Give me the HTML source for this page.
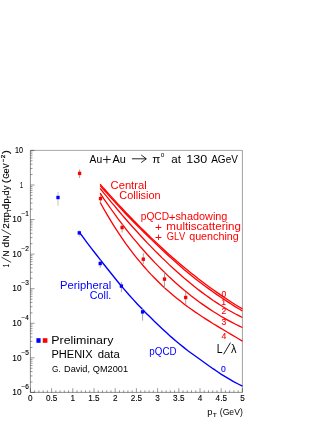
<!DOCTYPE html>
<html><head><meta charset="utf-8"><title>chart</title>
<style>html,body{margin:0;padding:0;background:#fff}svg{display:block;will-change:transform}text{font-family:"Liberation Sans",sans-serif;font-kerning:none}</style>
</head><body>
<svg width="327" height="423" viewBox="0 0 327 423">
<rect width="327" height="423" fill="#fff"/>
<path d="M30.4,150.4V392.4H242.4" fill="none" stroke="#000" stroke-width="0.44"/>
<path d="M242.4,392.4V150.4" fill="none" stroke="#000" stroke-width="0.38"/>
<path d="M242.4,150.4H30.4" fill="none" stroke="#000" stroke-width="0.35"/>
<path d="M30.40,392.4v-4.2M34.64,392.4v-2.1M38.88,392.4v-2.1M43.12,392.4v-2.1M47.36,392.4v-2.1M51.60,392.4v-4.2M55.84,392.4v-2.1M60.08,392.4v-2.1M64.32,392.4v-2.1M68.56,392.4v-2.1M72.80,392.4v-4.2M77.04,392.4v-2.1M81.28,392.4v-2.1M85.52,392.4v-2.1M89.76,392.4v-2.1M94.00,392.4v-4.2M98.24,392.4v-2.1M102.48,392.4v-2.1M106.72,392.4v-2.1M110.96,392.4v-2.1M115.20,392.4v-4.2M119.44,392.4v-2.1M123.68,392.4v-2.1M127.92,392.4v-2.1M132.16,392.4v-2.1M136.40,392.4v-4.2M140.64,392.4v-2.1M144.88,392.4v-2.1M149.12,392.4v-2.1M153.36,392.4v-2.1M157.60,392.4v-4.2M161.84,392.4v-2.1M166.08,392.4v-2.1M170.32,392.4v-2.1M174.56,392.4v-2.1M178.80,392.4v-4.2M183.04,392.4v-2.1M187.28,392.4v-2.1M191.52,392.4v-2.1M195.76,392.4v-2.1M200.00,392.4v-4.2M204.24,392.4v-2.1M208.48,392.4v-2.1M212.72,392.4v-2.1M216.96,392.4v-2.1M221.20,392.4v-4.2M225.44,392.4v-2.1M229.68,392.4v-2.1M233.92,392.4v-2.1M238.16,392.4v-2.1M242.40,392.4v-4.2M30.4,392.40h4.2M30.4,381.99h2.1M30.4,375.91h2.1M30.4,371.59h2.1M30.4,368.24h2.1M30.4,365.50h2.1M30.4,363.18h2.1M30.4,361.18h2.1M30.4,359.41h2.1M30.4,357.83h4.2M30.4,347.42h2.1M30.4,341.33h2.1M30.4,337.01h2.1M30.4,333.66h2.1M30.4,330.93h2.1M30.4,328.61h2.1M30.4,326.61h2.1M30.4,324.84h2.1M30.4,323.26h4.2M30.4,312.85h2.1M30.4,306.76h2.1M30.4,302.44h2.1M30.4,299.09h2.1M30.4,296.36h2.1M30.4,294.04h2.1M30.4,292.04h2.1M30.4,290.27h2.1M30.4,288.69h4.2M30.4,278.28h2.1M30.4,272.19h2.1M30.4,267.87h2.1M30.4,264.52h2.1M30.4,261.78h2.1M30.4,259.47h2.1M30.4,257.46h2.1M30.4,255.70h2.1M30.4,254.11h4.2M30.4,243.71h2.1M30.4,237.62h2.1M30.4,233.30h2.1M30.4,229.95h2.1M30.4,227.21h2.1M30.4,224.90h2.1M30.4,222.89h2.1M30.4,221.12h2.1M30.4,219.54h4.2M30.4,209.14h2.1M30.4,203.05h2.1M30.4,198.73h2.1M30.4,195.38h2.1M30.4,192.64h2.1M30.4,190.33h2.1M30.4,188.32h2.1M30.4,186.55h2.1M30.4,184.97h4.2M30.4,174.56h2.1M30.4,168.48h2.1M30.4,164.16h2.1M30.4,160.81h2.1M30.4,158.07h2.1M30.4,155.76h2.1M30.4,153.75h2.1M30.4,151.98h2.1M30.4,150.40h4.2" stroke="#000" stroke-width="0.4" fill="none"/>
<text x="28.12" y="400.70" font-size="8.2" fill="#000" stroke="#000" stroke-width="0.1">0</text>
<text x="45.91" y="400.70" font-size="8.2" fill="#000" stroke="#000" stroke-width="0.1">0.5</text>
<text x="70.41" y="400.70" font-size="8.2" fill="#000" stroke="#000" stroke-width="0.1">1</text>
<text x="88.16" y="400.70" font-size="8.2" fill="#000" stroke="#000" stroke-width="0.1">1.5</text>
<text x="112.92" y="400.70" font-size="8.2" fill="#000" stroke="#000" stroke-width="0.1">2</text>
<text x="130.67" y="400.70" font-size="8.2" fill="#000" stroke="#000" stroke-width="0.1">2.5</text>
<text x="155.34" y="400.70" font-size="8.2" fill="#000" stroke="#000" stroke-width="0.1">3</text>
<text x="173.12" y="400.70" font-size="8.2" fill="#000" stroke="#000" stroke-width="0.1">3.5</text>
<text x="197.75" y="400.70" font-size="8.2" fill="#000" stroke="#000" stroke-width="0.1">4</text>
<text x="215.58" y="400.70" font-size="8.2" fill="#000" stroke="#000" stroke-width="0.1">4.5</text>
<text x="240.13" y="400.70" font-size="8.2" fill="#000" stroke="#000" stroke-width="0.1">5</text>
<text transform="translate(15.05,153.20) scale(0.8806,1)" font-size="8.2" fill="#000" stroke="#000" stroke-width="0.1">10</text>
<text transform="translate(20.09,187.77) scale(0.6506,1)" font-size="8.2" fill="#000" stroke="#000" stroke-width="0.1">1</text>
<text transform="translate(12.37,222.34) scale(1.0152,1)" font-size="8.2" fill="#000" stroke="#000" stroke-width="0.1">10</text>
<text transform="translate(21.48,216.24) scale(0.9597,1)" font-size="6.8" fill="#000" stroke="#000" stroke-width="0.15">−1</text>
<text transform="translate(12.37,256.91) scale(1.0152,1)" font-size="8.2" fill="#000" stroke="#000" stroke-width="0.1">10</text>
<text transform="translate(21.48,250.81) scale(0.9611,1)" font-size="6.8" fill="#000" stroke="#000" stroke-width="0.15">−2</text>
<text transform="translate(12.37,291.49) scale(1.0152,1)" font-size="8.2" fill="#000" stroke="#000" stroke-width="0.1">10</text>
<text transform="translate(21.48,285.39) scale(0.9552,1)" font-size="6.8" fill="#000" stroke="#000" stroke-width="0.15">−3</text>
<text transform="translate(12.37,326.06) scale(1.0152,1)" font-size="8.2" fill="#000" stroke="#000" stroke-width="0.1">10</text>
<text transform="translate(21.48,319.96) scale(0.9420,1)" font-size="6.8" fill="#000" stroke="#000" stroke-width="0.15">−4</text>
<text transform="translate(12.37,360.63) scale(1.0152,1)" font-size="8.2" fill="#000" stroke="#000" stroke-width="0.1">10</text>
<text transform="translate(21.48,354.53) scale(0.9534,1)" font-size="6.8" fill="#000" stroke="#000" stroke-width="0.15">−5</text>
<text transform="translate(12.37,395.20) scale(1.0152,1)" font-size="8.2" fill="#000" stroke="#000" stroke-width="0.1">10</text>
<text transform="translate(21.48,389.10) scale(0.9552,1)" font-size="6.8" fill="#000" stroke="#000" stroke-width="0.15">−6</text>
<g transform="translate(9.2,267) rotate(-90)">
<text transform="translate(-0.07,0.00) scale(0.5412,1)" font-size="9.0" fill="#000" stroke="#000" stroke-width="0.13">1</text>
<path d="M4.6,1.9L9.8,-7.7M32.2,1.9L37.5,-7.7" stroke="#000" stroke-width="0.75" fill="none"/>
<text transform="translate(10.62,0.00) scale(0.9150,1)" font-size="9.0" fill="#000" stroke="#000" stroke-width="0.13">N</text>
<text transform="translate(19.57,0.00) scale(1.1365,1)" font-size="9.0" fill="#000" stroke="#000" stroke-width="0.13">d</text>
<text transform="translate(25.42,0.00) scale(0.9150,1)" font-size="9.0" fill="#000" stroke="#000" stroke-width="0.13">N</text>
<text transform="translate(38.19,0.00) scale(1.1219,1)" font-size="9.0" fill="#000" stroke="#000" stroke-width="0.13">2</text>
<text transform="translate(44.31,0.00) scale(0.8414,1)" font-size="9.0" fill="#000" stroke="#000" stroke-width="0.13">π</text>
<text transform="translate(49.83,0.00) scale(0.9883,1)" font-size="9.0" fill="#000" stroke="#000" stroke-width="0.13">p</text>
<text transform="translate(54.90,1.80) scale(0.8503,1)" font-size="5.2" fill="#000" stroke="#000" stroke-width="0.22">T</text>
<text transform="translate(57.70,0.00) scale(1.0624,1)" font-size="9.0" fill="#000" stroke="#000" stroke-width="0.13">d</text>
<text transform="translate(63.61,0.00) scale(1.0130,1)" font-size="9.0" fill="#000" stroke="#000" stroke-width="0.13">p</text>
<text transform="translate(68.80,1.80) scale(0.8163,1)" font-size="5.2" fill="#000" stroke="#000" stroke-width="0.22">T</text>
<text transform="translate(71.61,0.00) scale(1.0377,1)" font-size="9.0" fill="#000" stroke="#000" stroke-width="0.13">d</text>
<text transform="translate(76.88,0.00) scale(0.9640,1)" font-size="9.0" fill="#000" stroke="#000" stroke-width="0.13">y</text>
<text transform="translate(83.77,0.00) scale(1.2991,1)" font-size="9.0" fill="#000" stroke="#000" stroke-width="0.13">(</text>
<text transform="translate(88.45,0.00) scale(0.7659,1)" font-size="9.0" fill="#000" stroke="#000" stroke-width="0.13">G</text>
<text transform="translate(93.74,0.00) scale(0.9472,1)" font-size="9.0" fill="#000" stroke="#000" stroke-width="0.13">e</text>
<text transform="translate(98.87,0.00) scale(0.8103,1)" font-size="9.0" fill="#000" stroke="#000" stroke-width="0.13">V</text>
<text transform="translate(105.02,-4.50) scale(0.9605,1)" font-size="6.0" fill="#000" stroke="#000" stroke-width="0.22">−</text>
<text transform="translate(108.69,-4.30) scale(1.0244,1)" font-size="6.0" fill="#000" stroke="#000" stroke-width="0.22">2</text>
<text transform="translate(112.93,0.00) scale(1.3410,1)" font-size="9.0" fill="#000" stroke="#000" stroke-width="0.13">)</text>
</g>
<text transform="translate(207.20,415.30) scale(1.0860,1)" font-size="8.6" fill="#000">p</text>
<text transform="translate(212.75,416.80) scale(1.2584,1)" font-size="5.2" fill="#000" stroke="#000" stroke-width="0.08">T</text>
<text transform="translate(219.76,415.30) scale(1.0060,1)" font-size="8.6" fill="#000">(GeV)</text>
<text transform="translate(89.58,162.70) scale(0.9201,1)" font-size="11.2" fill="#000">Au</text>
<text transform="translate(112.48,162.70) scale(0.9742,1)" font-size="11.2" fill="#000">Au</text>
<path d="M103,159.5h7.7M106.85,155.7v7.6" stroke="#000" stroke-width="0.85" fill="none"/>
<path d="M131.9,158.8h14.3M141.2,155l5.1,3.8l-5.1,3.8" stroke="#000" stroke-width="0.85" fill="none" stroke-linejoin="miter"/>
<text transform="translate(152.15,162.70) scale(1.0436,1)" font-size="11.2" fill="#000">π</text>
<text transform="translate(160.65,156.50) scale(1.0460,1)" font-size="6.2" fill="#000">0</text>
<text transform="translate(171.21,162.70) scale(1.0361,1)" font-size="11.2" fill="#000">at</text>
<text transform="translate(186.34,162.70) scale(1.1209,1)" font-size="11.2" fill="#000">130</text>
<text transform="translate(211.18,162.70) scale(0.8957,1)" font-size="11.2" fill="#000">AGeV</text>
<path d="M100.1,184.1 L103.7,188.3 L107.4,192.4 L111.0,196.4 L114.7,200.4 L118.3,204.4 L122.0,208.3 L125.6,212.2 L129.3,216.0 L132.9,219.8 L136.6,223.5 L140.2,227.1 L143.9,230.8 L147.5,234.3 L151.2,237.9 L154.8,241.3 L158.5,244.8 L162.1,248.1 L165.8,251.4 L169.4,254.7 L173.1,257.9 L176.7,261.1 L180.4,264.2 L184.0,267.3 L187.7,270.3 L191.3,273.2 L195.0,276.1 L198.6,279.0 L202.3,281.8 L205.9,284.5 L209.6,287.2 L213.2,289.8 L216.9,292.4 L220.5,294.9 L224.2,297.4 L227.8,299.8 L231.5,302.2 L235.1,304.5 L238.8,306.7 L242.4,308.9" stroke="#f00" stroke-width="1.3" fill="none"/>
<path d="M100.1,185.6 L103.7,189.8 L107.4,193.9 L111.0,197.9 L114.7,201.9 L118.3,205.9 L122.0,209.8 L125.6,213.7 L129.3,217.5 L132.9,221.3 L136.6,225.0 L140.2,228.6 L143.9,232.3 L147.5,235.8 L151.2,239.4 L154.8,242.9 L158.5,246.4 L162.1,249.8 L165.8,253.2 L169.4,256.5 L173.1,259.8 L176.7,263.0 L180.4,266.2 L184.0,269.4 L187.7,272.4 L191.3,275.4 L195.0,278.4 L198.6,281.2 L202.3,284.0 L205.9,286.7 L209.6,289.4 L213.2,292.0 L216.9,294.6 L220.5,297.0 L224.2,299.5 L227.8,301.9 L231.5,304.3 L235.1,306.6 L238.8,308.8 L242.4,311.0" stroke="#f00" stroke-width="1.3" fill="none"/>
<path d="M100.1,188.3 L103.7,192.9 L107.4,197.4 L111.0,201.8 L114.7,206.2 L118.3,210.5 L122.0,214.8 L125.6,219.0 L129.3,223.2 L132.9,227.3 L136.6,231.3 L140.2,235.3 L143.9,239.3 L147.5,243.1 L151.2,246.9 L154.8,250.6 L158.5,254.3 L162.1,257.9 L165.8,261.4 L169.4,264.9 L173.1,268.3 L176.7,271.6 L180.4,274.8 L184.0,278.0 L187.7,281.1 L191.3,284.1 L195.0,287.0 L198.6,289.9 L202.3,292.6 L205.9,295.3 L209.6,297.9 L213.2,300.5 L216.9,302.9 L220.5,305.3 L224.2,307.5 L227.8,309.7 L231.5,311.8 L235.1,313.8 L238.8,315.7 L242.4,317.5" stroke="#f00" stroke-width="1.3" fill="none"/>
<path d="M100.1,193.1 L103.7,198.6 L107.4,203.9 L111.0,209.0 L114.7,214.1 L118.3,219.1 L122.0,223.9 L125.6,228.6 L129.3,233.3 L132.9,237.8 L136.6,242.2 L140.2,246.5 L143.9,250.7 L147.5,254.7 L151.2,258.7 L154.8,262.6 L158.5,266.4 L162.1,270.0 L165.8,273.6 L169.4,277.1 L173.1,280.5 L176.7,283.7 L180.4,286.9 L184.0,290.0 L187.7,293.0 L191.3,295.9 L195.0,298.7 L198.6,301.5 L202.3,304.1 L205.9,306.6 L209.6,309.1 L213.2,311.5 L216.9,313.8 L220.5,316.0 L224.2,318.1 L227.8,320.1 L231.5,322.1 L235.1,324.0 L238.8,325.8 L242.4,327.5" stroke="#f00" stroke-width="1.3" fill="none"/>
<path d="M100.1,202.3 L103.7,208.8 L107.4,215.2 L111.0,221.2 L114.7,227.1 L118.3,232.7 L122.0,238.1 L125.6,243.4 L129.3,248.4 L132.9,253.2 L136.6,257.8 L140.2,262.2 L143.9,266.5 L147.5,270.6 L151.2,274.6 L154.8,278.3 L158.5,282.0 L162.1,285.5 L165.8,288.9 L169.4,292.1 L173.1,295.2 L176.7,298.2 L180.4,301.1 L184.0,303.9 L187.7,306.7 L191.3,309.3 L195.0,311.9 L198.6,314.3 L202.3,316.8 L205.9,319.1 L209.6,321.4 L213.2,323.7 L216.9,325.9 L220.5,328.1 L224.2,330.3 L227.8,332.5 L231.5,334.6 L235.1,336.8 L238.8,339.0 L242.4,341.1" stroke="#f00" stroke-width="1.3" fill="none"/>
<path d="M78.8,231.5 L83.0,237.2 L87.2,242.8 L91.4,248.3 L95.6,253.7 L99.8,259.1 L104.0,264.5 L108.2,269.8 L112.4,275.0 L116.6,280.2 L120.7,285.2 L124.9,290.1 L129.1,295.0 L133.3,299.6 L137.5,304.2 L141.7,308.6 L145.9,312.9 L150.1,317.1 L154.3,321.3 L158.5,325.3 L162.7,329.2 L166.9,333.1 L171.1,336.9 L175.3,340.5 L179.5,344.0 L183.7,347.4 L187.9,350.7 L192.1,353.7 L196.3,356.7 L200.5,359.7 L204.6,362.7 L208.8,365.7 L213.0,368.7 L217.2,371.5 L221.4,374.3 L225.6,376.9 L229.8,379.4 L234.0,381.8 L238.2,384.0 L242.4,386.1" stroke="#00f" stroke-width="1.4" fill="none"/>
<path d="M58,192.1V205.9" stroke="#c0c0c0" stroke-width="0.9"/>
<rect x="56.35" y="195.80" width="3.3" height="3.4" fill="#00f"/>
<path d="M79.3,230V237" stroke="#ccc" stroke-width="0.9"/>
<rect x="77.65" y="231.20" width="3.3" height="3.4" fill="#00f"/>
<path d="M100.2,260V267.6" stroke="#999" stroke-width="0.9"/>
<rect x="98.55" y="261.80" width="3.3" height="3.4" fill="#00f"/>
<path d="M121.4,282V292.2" stroke="#999" stroke-width="0.9"/>
<rect x="119.75" y="284.40" width="3.3" height="3.4" fill="#00f"/>
<path d="M142.6,307.6V320.6" stroke="#999" stroke-width="0.9"/>
<rect x="140.95" y="310.20" width="3.3" height="3.4" fill="#00f"/>
<path d="M79.6,169.5V178" stroke="#999" stroke-width="0.9"/>
<rect x="77.95" y="171.70" width="3.3" height="3.4" fill="#f00"/>
<path d="M100.5,195V202.5" stroke="#999" stroke-width="0.9"/>
<rect x="98.85" y="196.90" width="3.3" height="3.4" fill="#f00"/>
<path d="M122.1,223.5V232.5" stroke="#999" stroke-width="0.9"/>
<rect x="120.45" y="225.80" width="3.3" height="3.4" fill="#f00"/>
<path d="M143.3,253.2V264" stroke="#999" stroke-width="0.9"/>
<rect x="141.65" y="257.50" width="3.3" height="3.4" fill="#f00"/>
<path d="M164.5,272.5V289" stroke="#999" stroke-width="0.9"/>
<rect x="162.85" y="277.40" width="3.3" height="3.4" fill="#f00"/>
<path d="M185.7,291.7V304" stroke="#999" stroke-width="0.9"/>
<rect x="184.05" y="295.80" width="3.3" height="3.4" fill="#f00"/>
<text transform="translate(110.53,188.90) scale(1.1236,1)" font-size="10.0" fill="#f00">Central</text>
<text transform="translate(119.34,198.60) scale(1.0946,1)" font-size="10.0" fill="#f00">Collision</text>
<text transform="translate(140.74,220.30) scale(1.0202,1)" font-size="10.0" fill="#f00">pQCD</text>
<text transform="translate(168.73,220.80) scale(0.9943,1)" font-size="11.8" fill="#f00">+</text>
<text transform="translate(175.40,220.30) scale(1.0898,1)" font-size="10.0" fill="#f00">shadowing</text>
<text transform="translate(155.12,230.60) scale(1.0117,1)" font-size="11.8" fill="#f00">+</text>
<text transform="translate(166.33,230.10) scale(1.1590,1)" font-size="10.0" fill="#f00">multiscattering</text>
<text transform="translate(155.12,240.70) scale(1.0117,1)" font-size="11.8" fill="#f00">+</text>
<text transform="translate(166.63,240.20) scale(0.9351,1)" font-size="10.0" fill="#f00">GLV</text>
<text transform="translate(189.15,240.20) scale(1.0779,1)" font-size="10.0" fill="#f00">quenching</text>
<text x="221.41" y="296.70" font-size="8.6" fill="#f00" stroke="#f00" stroke-width="0.12">0</text>
<text x="221.29" y="305.30" font-size="8.6" fill="#f00" stroke="#f00" stroke-width="0.12">1</text>
<text x="221.41" y="313.90" font-size="8.6" fill="#f00" stroke="#f00" stroke-width="0.12">2</text>
<text x="221.43" y="325.20" font-size="8.6" fill="#f00" stroke="#f00" stroke-width="0.12">3</text>
<text x="221.44" y="338.80" font-size="8.6" fill="#f00" stroke="#f00" stroke-width="0.12">4</text>
<text transform="translate(59.98,288.90) scale(1.1227,1)" font-size="10.0" fill="#00f">Peripheral</text>
<text transform="translate(89.86,299.10) scale(1.0708,1)" font-size="10.0" fill="#00f">Coll.</text>
<text transform="translate(149.37,355.00) scale(0.9790,1)" font-size="10.0" fill="#00f">pQCD</text>
<text x="221.11" y="372.30" font-size="8.6" fill="#00f" stroke="#00f" stroke-width="0.12">0</text>
<text transform="translate(216.84,352.60) scale(0.8280,1)" font-size="12.6" fill="#000">L</text>
<text transform="translate(231.03,352.60) scale(0.8684,1)" font-size="12.6" fill="#000">λ</text>
<path d="M223.6,354.3L230.5,342.6" stroke="#000" stroke-width="0.9" fill="none"/>
<rect x="36.4" y="338.2" width="4.2" height="4.6" fill="#00f"/>
<rect x="42.8" y="338.2" width="4.6" height="4.6" fill="#f00"/>
<text transform="translate(51.28,343.90) scale(1.0997,1)" font-size="11.3" fill="#000">Preliminary</text>
<text transform="translate(51.39,358.00) scale(0.9803,1)" font-size="11.3" fill="#000">PHENIX</text>
<text transform="translate(97.72,358.00) scale(1.0038,1)" font-size="11.3" fill="#000">data</text>
<text transform="translate(51.89,372.20) scale(0.9541,1)" font-size="8.6" fill="#000">G.</text>
<text transform="translate(64.05,372.20) scale(1.0656,1)" font-size="8.6" fill="#000">David,</text>
<text transform="translate(92.76,372.20) scale(1.0697,1)" font-size="8.6" fill="#000">QM2001</text>
</svg>
</body></html>
